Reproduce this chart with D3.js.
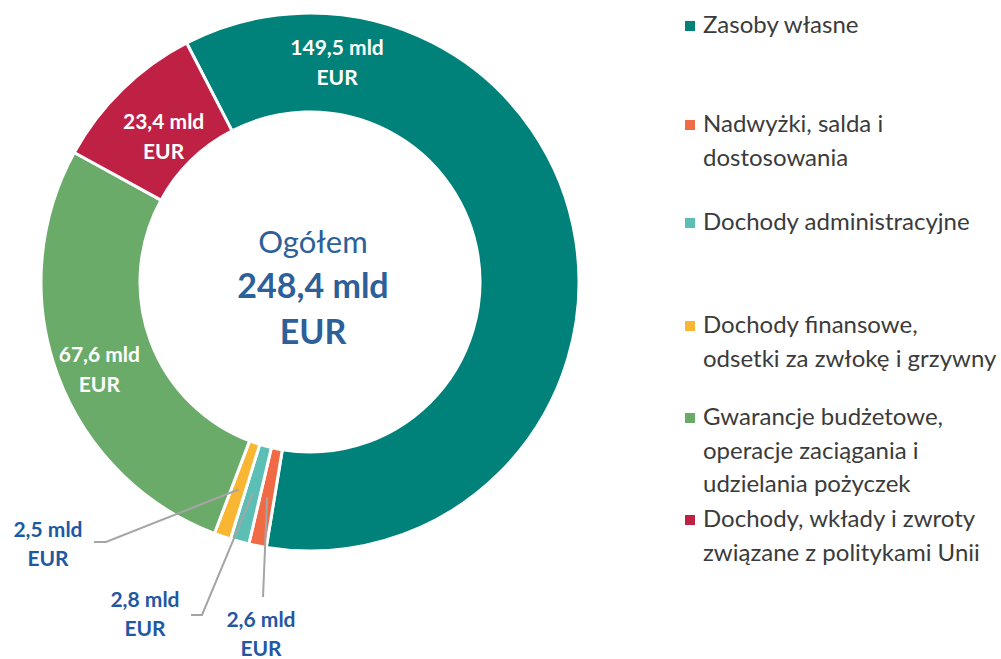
<!DOCTYPE html>
<html>
<head>
<meta charset="utf-8">
<script src="https://cdn.jsdelivr.net/npm/d3@7"></script>
<style>
  body { margin: 0; background: #fff; }
  svg { display: block; font-family: Lato, "Open Sans", sans-serif; }
</style>
</head>
<body>
<div id="chart"></div>
<script>
// data (mld EUR)
var categories = [
  "Zasoby własne",
  "Nadwyżki, salda i dostosowania",
  "Dochody administracyjne",
  "Dochody finansowe, odsetki za zwłokę i grzywny",
  "Gwarancje budżetowe, operacje zaciągania i udzielania pożyczek",
  "Dochody, wkłady i zwroty związane z politykami Unii"
]
var values = [149.5, 2.6, 2.8, 2.5, 67.6, 23.4]
var colors = ["#00827a", "#ef6a45", "#5bbfb6", "#f9b632", "#6bab69", "#be2144"]
var total = 248.4

// legend text, broken the way the picture breaks it
var legendLines = [
  ["Zasoby własne"],
  ["Nadwyżki, salda i", "dostosowania"],
  ["Dochody administracyjne"],
  ["Dochody finansowe,", "odsetki za zwłokę i grzywny"],
  ["Gwarancje budżetowe,", "operacje zaciągania i", "udzielania pożyczek"],
  ["Dochody, wkłady i zwroty", "związane z politykami Unii"]
]
var legendTop = [33, 132, 230, 333, 425, 527]

var width = 1001, height = 659
var cx = 310, cy = 282
var rOuter = 269, rInner = 170
var startDeg = -27.3

var pl = d3.formatLocale({decimal: ",", thousands: " ", grouping: [3], currency: ["", ""]})
var fmt = pl.format(".1f")

var svg = d3.select("#chart").append("svg")
    .attr("width", width)
    .attr("height", height)

var pie = d3.pie().sort(null).value(function(d){ return d })
    .startAngle(startDeg * Math.PI / 180)
    .endAngle(startDeg * Math.PI / 180 + 2 * Math.PI)
var arcs = pie(values)

var arc = d3.arc().innerRadius(rInner).outerRadius(rOuter)

var g = svg.append("g").attr("transform", "translate(" + cx + "," + cy + ")")

g.selectAll("path.slice")
  .data(arcs)
  .enter().append("path")
    .attr("class", "slice")
    .attr("d", arc)
    .attr("fill", function(d, i){ return colors[i] })
    .attr("stroke", "#fff")
    .attr("stroke-width", 3)

// labels inside the ring (white) -- placed by angle / radius
// teal label sits near the top, not at its centroid
var inside = [
  {i: 0, ang: 7, r: 222},
  {i: 5, ang: -45, r: 207},
  {i: 4, ang: 247.5, r: 228}
]
inside.forEach(function(p){
  var a = p.ang * Math.PI / 180
  var x = Math.sin(a) * p.r, y = -Math.cos(a) * p.r
  var t = g.append("text")
      .attr("text-anchor", "middle")
      .attr("fill", "#fff")
      .attr("font-weight", "bold")
      .attr("font-size", 21)
  t.append("tspan").attr("x", x).attr("y", y - 7).text(fmt(values[p.i]) + " mld")
  t.append("tspan").attr("x", x).attr("y", y + 23).text("EUR")
})

// small slices: labels outside with grey leader lines
var outside = [
  {i: 3, pts: [[106, 542], [94, 542]], tx: 48, ty: 537},
  {i: 2, pts: [[202, 615], [191, 615]], tx: 145, ty: 607},
  {i: 1, pts: [[263, 597]], tx: 261, ty: 627}
]
outside.forEach(function(p){
  var c = arc.centroid(arcs[p.i])
  var line = [[cx + c[0], cy + c[1]]].concat(p.pts)
  svg.append("path")
    .attr("d", d3.line()(line))
    .attr("fill", "none")
    .attr("stroke", "#a5a5a5")
    .attr("stroke-width", 2)
  var t = svg.append("text")
      .attr("text-anchor", "middle")
      .attr("fill", "#1f58a3")
      .attr("font-weight", "bold")
      .attr("font-size", 21)
  t.append("tspan").attr("x", p.tx).attr("y", p.ty).text(fmt(values[p.i]) + " mld")
  t.append("tspan").attr("x", p.tx).attr("y", p.ty + 29).text("EUR")
})

// centre text
var ct = svg.append("text").attr("text-anchor", "middle").attr("fill", "#2d5f98")
ct.append("tspan").attr("x", cx + 3).attr("y", 253).attr("font-size", 31).text("Ogółem")
ct.append("tspan").attr("x", cx + 3).attr("y", 298).attr("font-size", 34).attr("font-weight", "bold")
  .text(fmt(total) + " mld")
ct.append("tspan").attr("x", cx + 3).attr("y", 344).attr("font-size", 34).attr("font-weight", "bold")
  .text("EUR")

// legend
var leg = svg.append("g")
legendLines.forEach(function(lines, i){
  leg.append("rect")
    .attr("x", 685).attr("y", legendTop[i] - 12)
    .attr("width", 10).attr("height", 10)
    .attr("fill", colors[i])
  var t = leg.append("text").attr("fill", "#3b3b3b").attr("font-size", 24)
  lines.forEach(function(s, j){
    t.append("tspan").attr("x", 703).attr("y", legendTop[i] + j * 33.5).text(s)
  })
})
</script>
</body>
</html>
